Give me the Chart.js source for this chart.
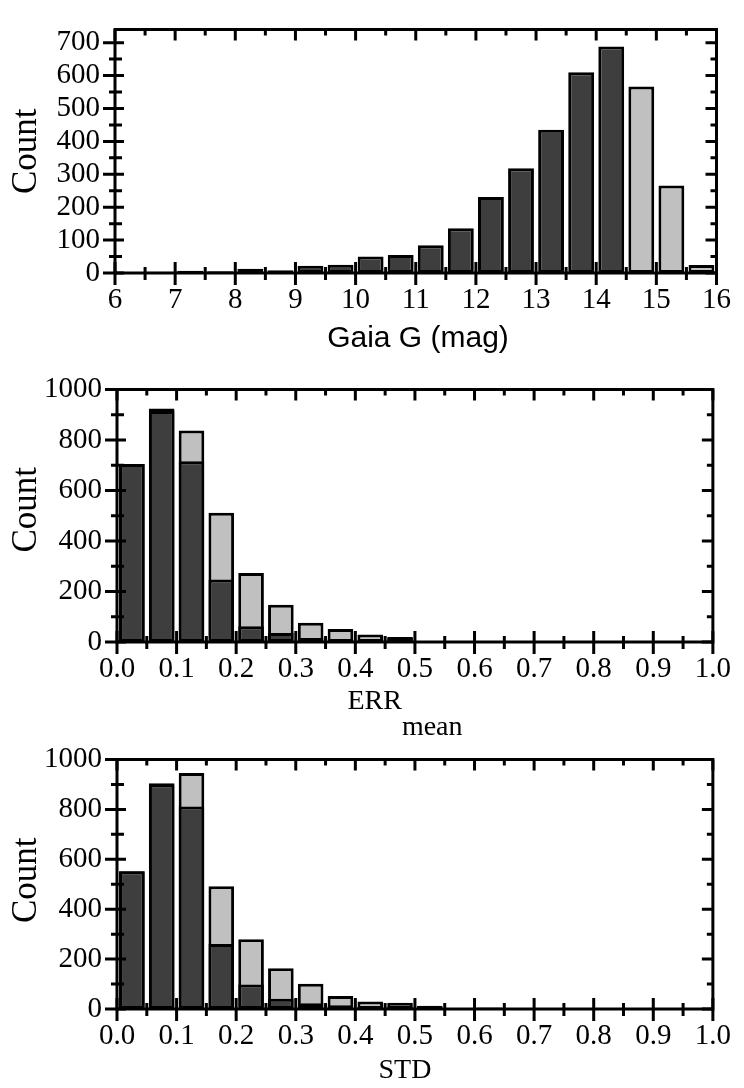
<!DOCTYPE html>
<html>
<head>
<meta charset="utf-8">
<script src="https://cdn.jsdelivr.net/npm/chart.js@4"></script>
<style>
  html, body { margin: 0; padding: 0; background: #fff; }
  body { width: 744px; height: 1088px; position: relative; overflow: hidden; }
  canvas { position: absolute; left: 0; }
</style>
</head>
<body>
<canvas id="gaia" width="744" height="360" style="top:0"></canvas>
<canvas id="err" width="744" height="385" style="top:360px"></canvas>
<canvas id="std" width="744" height="358" style="top:730px"></canvas>
<script>
// panel 1: Gaia G magnitude histogram (bin centres, 0.5 mag bins)
const gaiaBinsDark = [6.75, 7.25, 7.75, 8.25, 8.75, 9.25, 9.75, 10.25, 10.75, 11.25, 11.75, 12.25, 12.75, 13.25, 13.75, 14.25];
const gaiaCountDark = [4, 7, 5, 13, 8, 22, 25, 50, 55, 84, 136, 231, 318, 435, 610, 688];
const gaiaBinsLight = [14.75, 15.25, 15.75];
const gaiaCountLight = [567, 266, 24];
const gaiaXTicks = [6, 7, 8, 9, 10, 11, 12, 13, 14, 15, 16];
const gaiaYTicks = [0, 100, 200, 300, 400, 500, 600, 700];

// panels 2 and 3: 0.05 wide bins from 0 to 1
const fracBins = [0.025, 0.075, 0.125, 0.175, 0.225, 0.275, 0.325, 0.375, 0.425, 0.475,
                  0.525, 0.575, 0.625, 0.675, 0.725, 0.775, 0.825, 0.875, 0.925, 0.975];
const errAll = [705, 925, 838, 512, 273, 148, 76, 51, 30, 20, 4, 3, 2, 1, 1, 0, 0, 0, 0, 0];
const errSub = [705, 915, 716, 248, 62, 36, 16, 12, 10, 16, 3, 2, 1, 1, 0, 0, 0, 0, 0, 0];
const stdAll = [552, 905, 946, 492, 280, 163, 101, 52, 30, 25, 13, 4, 6, 2, 1, 1, 0, 0, 0, 1];
const stdSub = [552, 900, 812, 261, 98, 41, 23, 15, 9, 8, 5, 2, 2, 1, 0, 1, 0, 0, 0, 0];
const fracXTicks = [0, 0.1, 0.2, 0.3, 0.4, 0.5, 0.6, 0.7, 0.8, 0.9, 1.0];
const countYTicks = [0, 200, 400, 600, 800, 1000];

const DARK = '#3e3e3e';
const LIGHT = '#c0c0c0';
const SERIF = "'Liberation Serif', 'Times New Roman', serif";
const SANS = "'Liberation Sans', Arial, sans-serif";

function pts(xs, ys) {
    return xs.map(function (x, i) { return { x: x, y: ys[i] }; });
}

function mids(arr) {
    var out = [];
    for (var i = 0; i < arr.length - 1; i++) out.push((arr[i] + arr[i + 1]) / 2);
    return out;
}

// frame, crossing ticks and axis titles drawn on top of the bars
var framePlugin = {
    id: 'frame',
    afterDatasetsDraw: function (chart, args, o) {
        var ctx = chart.ctx, a = chart.chartArea;
        var xs = chart.scales.x, ys = chart.scales.y;
        ctx.save();
        ctx.strokeStyle = '#000';
        ctx.lineWidth = 3;
        ctx.lineCap = 'butt';
        ctx.strokeRect(a.left, a.top, a.right - a.left, a.bottom - a.top);
        ctx.beginPath();
        o.xMajor.forEach(function (v) {
            var p = xs.getPixelForValue(v);
            ctx.moveTo(p, a.bottom - 11); ctx.lineTo(p, a.bottom + 12);
            ctx.moveTo(p, a.top); ctx.lineTo(p, a.top + 11);
        });
        mids(o.xMajor).forEach(function (v) {
            var p = xs.getPixelForValue(v);
            ctx.moveTo(p, a.bottom - 6); ctx.lineTo(p, a.bottom + 7);
            ctx.moveTo(p, a.top); ctx.lineTo(p, a.top + 6);
        });
        o.yMajor.forEach(function (v) {
            var p = ys.getPixelForValue(v);
            ctx.moveTo(a.left - 12, p); ctx.lineTo(a.left + 9, p);
            ctx.moveTo(a.right - 11, p); ctx.lineTo(a.right, p);
        });
        mids(o.yMajor).forEach(function (v) {
            var p = ys.getPixelForValue(v);
            ctx.moveTo(a.left - 6, p); ctx.lineTo(a.left + 7, p);
            ctx.moveTo(a.right - 6, p); ctx.lineTo(a.right, p);
        });
        ctx.stroke();

        ctx.fillStyle = '#000';
        // y title
        ctx.save();
        ctx.translate(36, (a.top + a.bottom) / 2 + o.yTitleShift);
        ctx.rotate(-Math.PI / 2);
        ctx.font = '35px ' + SERIF;
        ctx.textAlign = 'center';
        ctx.textBaseline = 'alphabetic';
        ctx.fillText('Count', 0, 0);
        ctx.restore();

        // x title, optional subscript
        ctx.font = o.xFont;
        ctx.textBaseline = 'alphabetic';
        ctx.textAlign = 'left';
        var w = ctx.measureText(o.xTitle).width;
        var ws = o.xSub ? ctx.measureText(o.xSub).width : 0;
        var x0 = o.xCenter - (w + ws) / 2;
        ctx.fillText(o.xTitle, x0, a.bottom + o.xBase);
        if (o.xSub) ctx.fillText(o.xSub, x0 + w, a.bottom + o.xBase + 26);
        ctx.restore();
    }
};

function makeChart(id, datasets, cfg) {
    return new Chart(document.getElementById(id), {
        type: 'bar',
        data: { datasets: datasets },
        options: {
            responsive: false,
            animation: false,
            devicePixelRatio: 1,
            layout: { padding: cfg.padding },
            plugins: {
                legend: { display: false },
                tooltip: { enabled: false },
                frame: cfg.frame
            },
            scales: {
                x: {
                    type: 'linear',
                    min: cfg.xMin, max: cfg.xMax,
                    offset: false,
                    grid: { display: false, drawTicks: false },
                    border: { display: false },
                    afterBuildTicks: function (s) { s.ticks = cfg.xTicks.map(function (v) { return { value: v }; }); },
                    afterFit: function (s) { s.height = cfg.xHeight; },
                    ticks: {
                        color: '#000', padding: 13, maxRotation: 0, autoSkip: false,
                        font: { family: SERIF, size: 29, lineHeight: 1 },
                        callback: cfg.xFmt
                    }
                },
                y: {
                    min: 0, max: cfg.yMax,
                    grid: { display: false, drawTicks: false },
                    border: { display: false },
                    afterBuildTicks: function (s) { s.ticks = cfg.yTicks.map(function (v) { return { value: v }; }); },
                    afterFit: function (s) { s.width = cfg.yWidth; },
                    ticks: {
                        color: '#000', padding: 15, autoSkip: false,
                        font: { family: SERIF, size: 29, lineHeight: 1 },
                        callback: function (v) { return String(v); }
                    }
                }
            }
        },
        plugins: [framePlugin]
    });
}

function barSet(data, fill) {
    return {
        data: data,
        backgroundColor: fill,
        borderColor: '#000',
        borderWidth: 3,
        borderSkipped: false,
        grouped: false,
        barPercentage: 0.86,
        categoryPercentage: 1
    };
}

makeChart('gaia', [
    barSet(pts(gaiaBinsDark, gaiaCountDark), DARK),
    barSet(pts(gaiaBinsLight, gaiaCountLight), LIGHT)
], {
    padding: { top: 14, right: 26, left: 0, bottom: 0 },
    xMin: 6, xMax: 16, yMax: 740,
    xTicks: gaiaXTicks, yTicks: gaiaYTicks,
    xHeight: 87, yWidth: 115,
    xFmt: function (v) { return String(v); },
    frame: { xMajor: gaiaXTicks, yMajor: gaiaYTicks, yTitleShift: 0,
             xTitle: 'Gaia G (mag)', xFont: '30px ' + SANS, xCenter: 418, xBase: 74 }
});

makeChart('err', [
    barSet(pts(fracBins, errSub), DARK),
    barSet(pts(fracBins, errAll), LIGHT)
], {
    padding: { top: 23, right: 27, left: 0, bottom: 0 },
    xMin: 0, xMax: 1, yMax: 1000,
    xTicks: fracXTicks, yTicks: countYTicks,
    xHeight: 103, yWidth: 117,
    xFmt: function (v) { return v.toFixed(1); },
    frame: { xMajor: fracXTicks, yMajor: countYTicks, yTitleShift: -6,
             xTitle: 'ERR', xSub: 'mean', xFont: '28px ' + SERIF, xCenter: 405, xBase: 67 }
});

makeChart('std', [
    barSet(pts(fracBins, stdSub), DARK),
    barSet(pts(fracBins, stdAll), LIGHT)
], {
    padding: { top: 20, right: 27, left: 0, bottom: 0 },
    xMin: 0, xMax: 1, yMax: 1000,
    xTicks: fracXTicks, yTicks: countYTicks,
    xHeight: 79, yWidth: 117,
    xFmt: function (v) { return v.toFixed(1); },
    frame: { xMajor: fracXTicks, yMajor: countYTicks, yTitleShift: -4,
             xTitle: 'STD', xFont: '28px ' + SERIF, xCenter: 405, xBase: 69 }
});
</script>
</body>
</html>
